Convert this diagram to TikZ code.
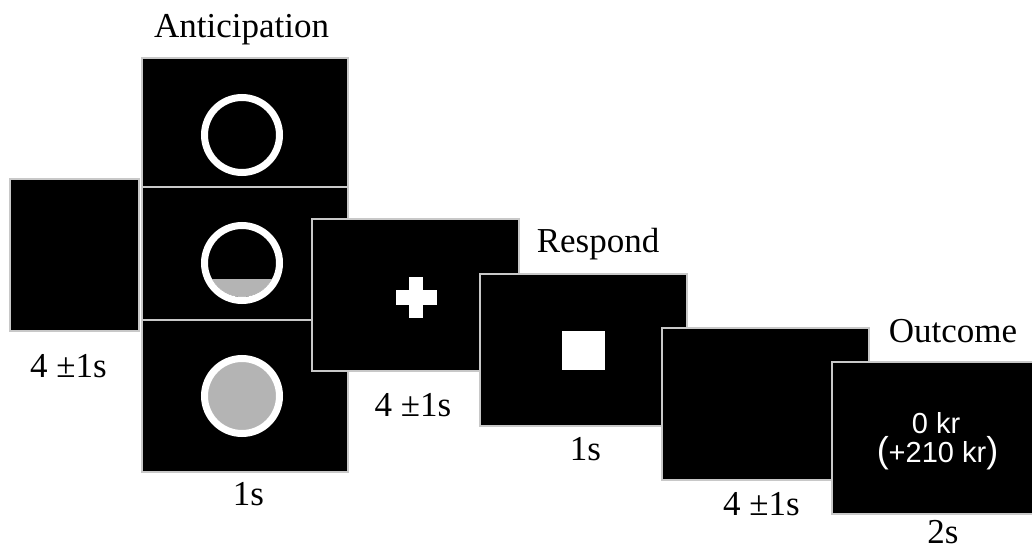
\documentclass[tikz,border=0pt]{standalone}
\usepackage{fontspec}
\setmainfont{Liberation Serif}
\newfontfamily\arialfont{Liberation Sans}
\definecolor{ringgray}{RGB}{180,180,180}
\definecolor{edgegray}{RGB}{200,200,200}
\begin{document}
\begin{tikzpicture}[x=1pt,y=-1pt,
  panel/.style={rectangle, fill=black, draw=edgegray, line width=1.6pt, inner sep=0pt, minimum width=207pt, minimum height=152pt},
  lbl/.style={anchor=base, inner sep=0pt, font=\fontsize{35}{40}\selectfont},
  ring/.style={draw=white, line width=7pt},
  outtxt/.style={anchor=base, inner sep=0pt, text=white, font=\arialfont\fontsize{29}{32}\selectfont}]
\useasboundingbox (0,0) rectangle (1032,553);
\fill[white] (0,0) rectangle (1032,553);
\begin{scope}
\clip (0,0) rectangle (1032,553);
% panels
\node[panel, minimum width=129pt] (p0) at (74.5,255) {};
\node[panel, minimum width=206pt] (a1) at (245,134) {};
\node[panel, minimum width=206pt] (a2) at (245,263) {};
\node[panel, minimum width=206pt] (a3) at (245,396) {};
\node[panel] (fix) at (415.5,295) {};
\node[panel] (resp) at (583.5,350) {};
\node[panel] (blank) at (765.5,404) {};
\node[panel] (out) at (935.5,438) {};
\end{scope}
% anticipation circles
\coordinate (c1) at (242,135);
\coordinate (c2) at (242,263);
\coordinate (c3) at (242,396);
\draw[ring] (c1) circle[radius=37.5];
\begin{scope}
\clip (c2) circle[radius=34];
\fill[ringgray] ([xshift=-40pt,yshift=-16pt]c2) rectangle ([xshift=40pt,yshift=-40pt]c2);
\end{scope}
\draw[ring] (c2) circle[radius=37.5];
\fill[ringgray] (c3) circle[radius=37.5];
\draw[ring] (c3) circle[radius=37.5];
% fixation cross
\coordinate (fc) at (416,297);
\fill[white] ([xshift=-20.5pt,yshift=7.5pt]fc) rectangle ([xshift=20.5pt,yshift=-7.5pt]fc);
\fill[white] ([xshift=-7pt,yshift=20.5pt]fc) rectangle ([xshift=7pt,yshift=-20.5pt]fc);
% respond square
\fill[white] (562,331) rectangle (605,370);
% outcome text
\node[outtxt] (o1) at (936,433) {0 kr};
\node[outtxt] (o2) at (937.5,462) {{\fontsize{36}{36}\selectfont(}+210 kr{\fontsize{36}{36}\selectfont)}};
% labels
\node[lbl] (tant) at (241.5,38) {Anticipation};
\node[lbl] (t0) at (68.5,377) {4 ±1s};
\node[lbl] (t1) at (248.5,505) {1s};
\node[lbl] (t2) at (413,416) {4 ±1s};
\node[lbl] (tresp) at (598,252) {Respond};
\node[lbl] (t3) at (585.5,460) {1s};
\node[lbl] (t4) at (761.5,515) {4 ±1s};
\node[lbl] (tout) at (953,342) {Outcome};
\node[lbl] (t5) at (943,543) {2s};
\end{tikzpicture}
\end{document}
